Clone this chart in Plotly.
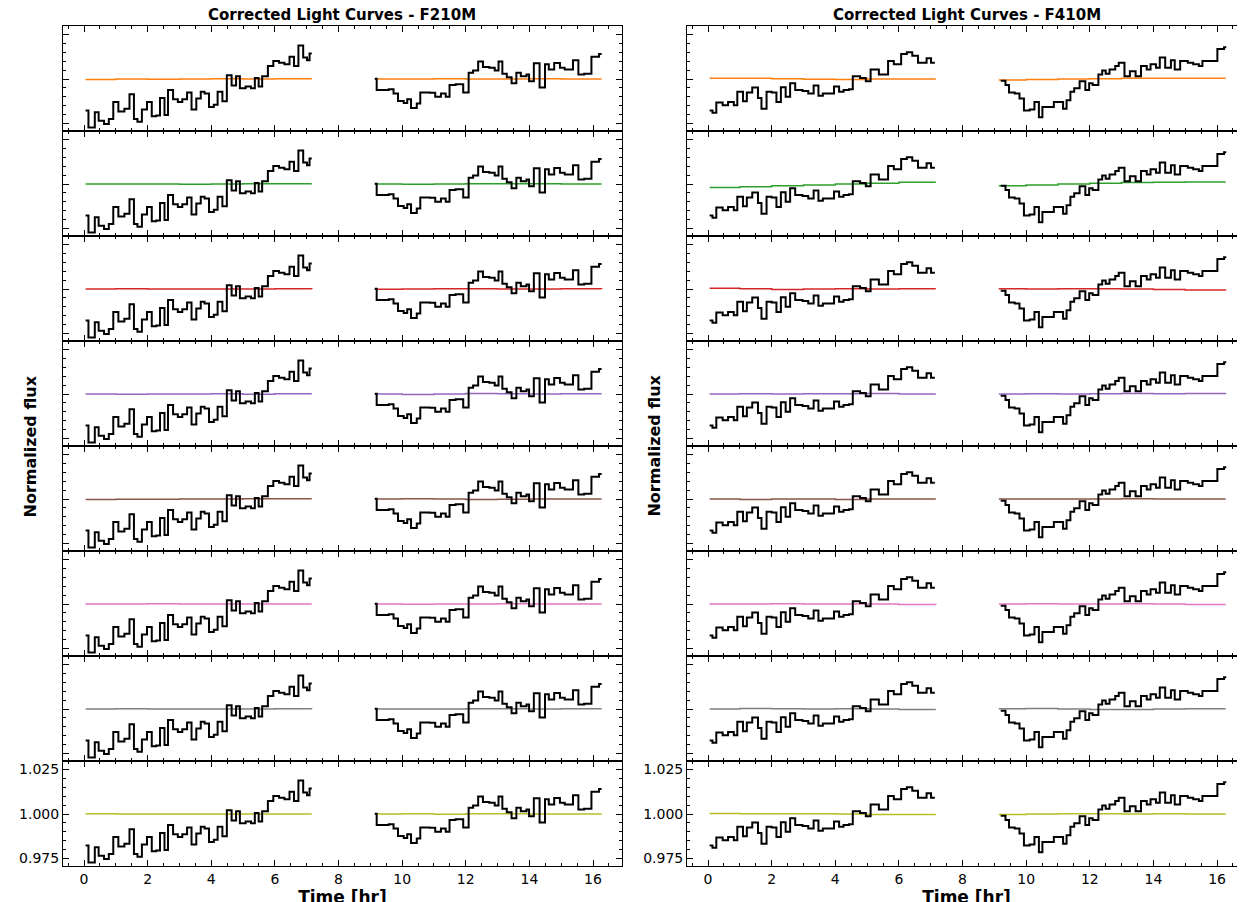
import plotly.graph_objects as go
from plotly.subplots import make_subplots

# black light curve, F210M (same in every row)
f210_t1 = [0.05, 0.14, 0.34, 0.46, 0.63, 0.78, 0.92, 1.08, 1.27, 1.43, 1.57, 1.68, 1.82, 1.98, 2.13, 2.27, 2.39,
           2.53, 2.64, 2.80, 2.95, 3.09, 3.24, 3.38, 3.53, 3.67, 3.79, 3.93, 4.08, 4.20, 4.35, 4.49, 4.64, 4.78,
           4.90, 5.08, 5.25, 5.37, 5.49, 5.60, 5.78, 5.95, 6.13, 6.30, 6.46, 6.60, 6.74, 6.89, 7.01, 7.09, 7.16]
f210_f1 = [0.9823, 0.9727, 0.9814, 0.9766, 0.9747, 0.9775, 0.9871, 0.9818, 0.9833, 0.9914, 0.9775, 0.9760,
           0.9829, 0.9871, 0.9791, 0.9795, 0.9894, 0.9798, 0.9939, 0.9887, 0.9871, 0.9887, 0.9925, 0.9829,
           0.9891, 0.9929, 0.9919, 0.9843, 0.9856, 0.9929, 0.9875, 1.0021, 0.9964, 1.0015, 0.9948, 0.9958,
           0.9948, 1.0006, 0.9958, 1.0015, 1.0073, 1.0102, 1.0092, 1.0083, 1.0125, 1.0073, 1.0188, 1.0121,
           1.0106, 1.0144, 1.0144]
f210_t2 = [9.14, 9.20, 9.58, 9.73, 9.87, 10.05, 10.16, 10.28, 10.46, 10.57, 10.87, 11.04, 11.22, 11.37, 11.49,
           11.68, 11.92, 12.09, 12.23, 12.39, 12.54, 12.74, 12.91, 13.03, 13.15, 13.29, 13.44, 13.59, 13.73,
           13.91, 13.99, 14.14, 14.32, 14.49, 14.61, 14.78, 14.96, 15.11, 15.25, 15.37, 15.54, 15.72, 15.95,
           16.19, 16.27]
f210_f2 = [1.0002, 0.9939, 0.9942, 0.9919, 0.9877, 0.9866, 0.9887, 0.9837, 0.9862, 0.9925, 0.9923, 0.9900,
           0.9919, 0.9900, 0.9967, 0.9971, 0.9925, 1.0035, 1.0048, 1.0098, 1.0067, 1.0063, 1.0048, 1.0098,
           1.0029, 1.0010, 0.9977, 1.0035, 1.0015, 1.0025, 0.9987, 1.0088, 0.9952, 1.0083, 1.0054, 1.0090,
           1.0063, 1.0054, 1.0054, 1.0106, 1.0025, 1.0029, 1.0125, 1.0140, 1.0140]

# black light curve, F410M
f410_t1 = [0.05, 0.14, 0.26, 0.46, 0.63, 0.81, 0.92, 1.10, 1.22, 1.39, 1.57, 1.68, 1.84, 2.00, 2.15, 2.29, 2.44,
           2.58, 2.74, 2.97, 3.15, 3.32, 3.47, 3.61, 3.79, 3.96, 4.12, 4.26, 4.43, 4.55, 4.78, 4.96, 5.11, 5.37,
           5.66, 5.84, 6.07, 6.25, 6.42, 6.60, 6.71, 6.87, 7.01, 7.13]
f410_f1 = [0.9823, 0.9810, 0.9868, 0.9852, 0.9871, 0.9852, 0.9929, 0.9875, 0.9925, 0.9952, 0.9894, 0.9833,
           0.9929, 0.9925, 0.9871, 0.9954, 0.9900, 0.9977, 0.9939, 0.9933, 0.9919, 0.9964, 0.9906, 0.9919,
           0.9919, 0.9958, 0.9929, 0.9939, 0.9942, 1.0015, 1.0006, 0.9987, 1.0054, 1.0025, 1.0102, 1.0083,
           1.0140, 1.0150, 1.0131, 1.0092, 1.0092, 1.0117, 1.0092, 1.0092]
f410_t2 = [9.20, 9.35, 9.46, 9.64, 9.79, 9.93, 10.11, 10.26, 10.40, 10.51, 10.69, 10.87, 11.04, 11.16, 11.27,
           11.39, 11.51, 11.68, 11.86, 11.98, 12.09, 12.27, 12.39, 12.50, 12.62, 12.80, 12.91, 13.09, 13.26,
           13.44, 13.61, 13.79, 13.91, 14.08, 14.20, 14.37, 14.55, 14.67, 14.84, 15.08, 15.25, 15.43, 15.54,
           15.78, 16.01, 16.22, 16.29]
f410_f2 = [0.9990, 0.9967, 0.9925, 0.9919, 0.9891, 0.9823, 0.9829, 0.9871, 0.9785, 0.9843, 0.9843, 0.9871,
           0.9871, 0.9833, 0.9881, 0.9929, 0.9948, 0.9987, 0.9939, 0.9977, 0.9967, 1.0025, 1.0048, 1.0029,
           1.0054, 1.0073, 1.0092, 1.0015, 1.0044, 1.0015, 1.0073, 1.0054, 1.0083, 1.0063, 1.0121, 1.0063,
           1.0106, 1.0054, 1.0102, 1.0092, 1.0083, 1.0073, 1.0102, 1.0102, 1.0169, 1.0179, 1.0179]

# coloured comparison curves (coarse levels)
comp_t1 = [0.05, 1.0, 2.0, 3.0, 4.0, 5.0, 6.0, 7.16]
comp_t2 = [9.14, 10.0, 11.0, 12.0, 13.0, 14.0, 15.0, 16.27]
colors = ['#ff7f0e', '#2ca02c', '#d62728', '#9467bd', '#8c564b', '#e377c2', '#7f7f7f', '#bcbd22']
comp_f210 = [
    ([0.9998, 1.0000, 0.9999, 1.0000, 1.0001, 1.0000, 1.0001, 1.0001], [1.0000, 1.0000, 1.0001, 1.0000, 1.0000, 1.0001, 1.0000, 1.0000]),
    ([1.0000, 1.0000, 1.0000, 0.9999, 1.0000, 1.0001, 1.0001, 1.0001], [1.0000, 0.9999, 1.0000, 1.0001, 1.0002, 1.0001, 1.0000, 1.0000]),
    ([1.0000, 1.0001, 1.0000, 1.0000, 1.0000, 1.0000, 1.0001, 1.0000], [0.9999, 1.0000, 1.0001, 1.0001, 1.0000, 1.0000, 1.0001, 1.0000]),
    ([1.0000, 0.9999, 1.0000, 1.0000, 1.0002, 0.9999, 1.0001, 1.0001], [1.0000, 0.9998, 1.0000, 1.0003, 1.0002, 1.0000, 1.0001, 1.0001]),
    ([0.9998, 0.9999, 0.9999, 1.0000, 1.0000, 1.0001, 1.0002, 1.0002], [1.0000, 1.0002, 1.0000, 0.9998, 0.9999, 1.0000, 1.0000, 1.0000]),
    ([1.0000, 1.0000, 1.0001, 1.0000, 1.0000, 1.0000, 1.0000, 1.0000], [1.0000, 0.9999, 1.0000, 1.0000, 1.0002, 1.0000, 1.0000, 1.0000]),
    ([1.0000, 1.0001, 1.0000, 1.0000, 1.0000, 1.0000, 1.0002, 1.0001], [1.0000, 1.0000, 1.0000, 1.0001, 1.0001, 1.0000, 1.0001, 1.0001]),
    ([1.0001, 1.0000, 1.0000, 1.0000, 1.0000, 1.0000, 1.0000, 1.0000], [1.0000, 1.0001, 0.9999, 1.0001, 1.0002, 1.0000, 1.0000, 1.0000]),
]
comp_f410 = [
    ([1.0005, 1.0004, 1.0002, 0.9999, 0.9998, 1.0000, 1.0000, 1.0000], [0.9995, 0.9998, 1.0000, 1.0002, 1.0004, 1.0004, 1.0005, 1.0005]),
    ([0.9980, 0.9985, 0.9990, 0.9995, 1.0000, 1.0005, 1.0010, 1.0010], [0.9990, 0.9995, 1.0000, 1.0005, 1.0008, 1.0010, 1.0012, 1.0012]),
    ([1.0005, 1.0002, 0.9998, 1.0000, 1.0002, 1.0000, 1.0002, 1.0002], [1.0002, 1.0000, 1.0002, 1.0002, 1.0000, 0.9998, 0.9995, 0.9993]),
    ([1.0000, 1.0002, 1.0000, 1.0002, 1.0002, 1.0003, 1.0000, 1.0000], [1.0000, 1.0002, 1.0000, 1.0002, 1.0003, 1.0002, 1.0003, 1.0004]),
    ([1.0000, 0.9998, 1.0000, 1.0000, 0.9998, 1.0000, 1.0000, 1.0000], [1.0000, 1.0000, 1.0000, 1.0000, 1.0002, 1.0000, 1.0000, 1.0000]),
    ([1.0000, 1.0000, 1.0001, 1.0000, 1.0000, 1.0000, 0.9998, 0.9996], [1.0000, 1.0001, 1.0000, 1.0000, 1.0001, 1.0000, 0.9998, 0.9998]),
    ([1.0000, 1.0003, 1.0002, 1.0000, 1.0002, 1.0000, 0.9998, 0.9998], [1.0002, 1.0003, 1.0000, 0.9998, 0.9998, 1.0000, 1.0002, 1.0002]),
    ([1.0003, 1.0001, 1.0002, 1.0001, 1.0000, 0.9998, 0.9998, 0.9998], [0.9998, 1.0000, 1.0002, 1.0001, 1.0000, 1.0002, 1.0000, 1.0000]),
]

titles = ['Corrected Light Curves - F210M', 'Corrected Light Curves - F410M']
nrows = 8

fig = make_subplots(rows=nrows, cols=2, shared_xaxes=True, vertical_spacing=0, horizontal_spacing=0.055)

panels = [
    (1, f210_t1, f210_f1, f210_t2, f210_f2, comp_f210),
    (2, f410_t1, f410_f1, f410_t2, f410_f2, comp_f410),
]
for col, t1, fl1, t2, fl2, comps in panels:
    for r in range(nrows):
        c1, c2 = comps[r]
        for tt, ff in [(comp_t1, c1), (comp_t2, c2)]:
            fig.add_trace(go.Scatter(x=tt, y=ff, mode='lines', line=dict(color=colors[r], width=1.5, shape='hv'),
                                     showlegend=False), row=r + 1, col=col)
        for tt, ff in [(t1, fl1), (t2, fl2)]:
            fig.add_trace(go.Scatter(x=tt, y=ff, mode='lines', line=dict(color='black', width=2, shape='hv'),
                                     showlegend=False), row=r + 1, col=col)

axis_style = dict(showline=True, linecolor='black', linewidth=1, mirror='ticks', ticks='inside', ticklen=6,
                  tickcolor='black', showgrid=False, zeroline=False, automargin=False,
                  minor=dict(ticks='inside', ticklen=3, tickcolor='black'))
fig.update_xaxes(range=[-0.66, 16.91], dtick=2, **axis_style)
fig.update_yaxes(range=[0.9708, 1.0298], tickvals=[0.975, 1.0, 1.025], showticklabels=False, **axis_style)
for col in (1, 2):
    fig.update_yaxes(showticklabels=True, ticktext=['0.975', '1.000', '1.025'], row=nrows, col=col)
    fig.update_xaxes(title_text='<b>Time [hr]</b>', title_standoff=0, row=nrows, col=col)

fig.update_layout(
    width=1245, height=902, margin=dict(l=55, r=7, t=18, b=44),
    plot_bgcolor='white', paper_bgcolor='white',
    font=dict(family='DejaVu Sans', size=14, color='black'),
)
top_x = ['x', 'x2']
for i, title in enumerate(titles):
    fig.add_annotation(text=f'<b>{title}</b>', xref=f'{top_x[i]} domain', yref='paper', x=0.5, y=1.0,
                       yanchor='bottom', showarrow=False, font=dict(size=15))
    fig.add_annotation(text='<b>Normalized flux</b>', xref=f'{top_x[i]} domain', yref='paper', x=0,
                       xanchor='right', xshift=-22, y=0.5, textangle=-90, showarrow=False, font=dict(size=16))

fig.write_html('out.html')
